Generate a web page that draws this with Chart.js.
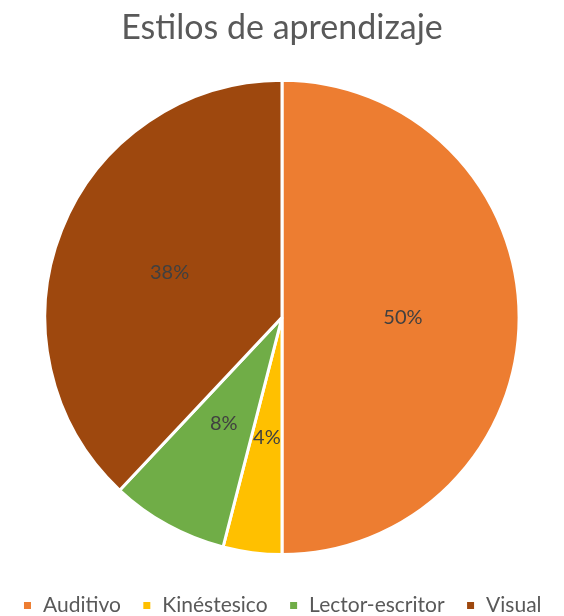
<!doctype html>
<html lang="es">
<head>
<meta charset="UTF-8">
<title>Estilos de aprendizaje</title>
<script src="https://cdn.jsdelivr.net/npm/chart.js"></script>
<style>
  html, body { margin: 0; padding: 0; background: #fff; }
  .chart-container { position: relative; width: 564px; height: 616px; }
</style>
</head>
<body>
<div class="chart-container">
  <canvas id="pieChart"></canvas>
</div>
<script>
const categories = ['Auditivo', 'Kinéstesico', 'Lector-escritor', 'Visual'];
const values = [50, 4, 8, 38];
const sliceColors = ['#ED7D31', '#FFC000', '#70AD47', '#9E480E'];

const FONT = 'Lato, "Open Sans", sans-serif';

// percent labels drawn inside each slice
const sliceLabels = {
    id: 'sliceLabels',
    afterLayout(chart) {
        // push the legend a bit further below the pie
        if (chart.legend) {
            chart.legend.top += 18;
            chart.legend.bottom += 18;
        }
    },
    afterDatasetsDraw(chart) {
        const ctx = chart.ctx;
        const meta = chart.getDatasetMeta(0);
        const total = values.reduce((a, b) => a + b, 0);
        ctx.save();
        ctx.font = '20px ' + FONT;
        ctx.fillStyle = '#404040';
        ctx.textAlign = 'center';
        ctx.textBaseline = 'middle';
        meta.data.forEach(function(arc, i) {
            const p = arc.getProps(['x', 'y', 'startAngle', 'endAngle', 'outerRadius'], true);
            const mid = (p.startAngle + p.endAngle) / 2;
            const r = p.outerRadius * 0.51;
            const pct = Math.round(values[i] / total * 100) + '%';
            ctx.fillText(pct, p.x + Math.cos(mid) * r, p.y + Math.sin(mid) * r);
        });
        ctx.restore();
    }
};

const ctx = document.getElementById('pieChart').getContext('2d');
const pieChart = new Chart(ctx, {
    type: 'pie',
    data: {
        labels: categories,
        datasets: [{
            data: values,
            backgroundColor: sliceColors,
            borderColor: '#fff',
            borderWidth: 3
        }]
    },
    options: {
        responsive: true,
        maintainAspectRatio: false,
        animation: false,
        layout: { padding: { top: 0, bottom: 8 } },
        plugins: {
            title: {
                display: true,
                text: 'Estilos de aprendizaje',
                color: '#595959',
                font: { family: FONT, size: 34, weight: 'normal' },
                padding: { top: 8, bottom: 30 }
            },
            legend: {
                position: 'bottom',
                labels: {
                    color: '#595959',
                    boxWidth: 10,
                    boxHeight: 10,
                    padding: 21,
                    font: { family: FONT, size: 21 }
                }
            },
            tooltip: { enabled: false }
        }
    },
    plugins: [sliceLabels]
});
</script>
</body>
</html>
